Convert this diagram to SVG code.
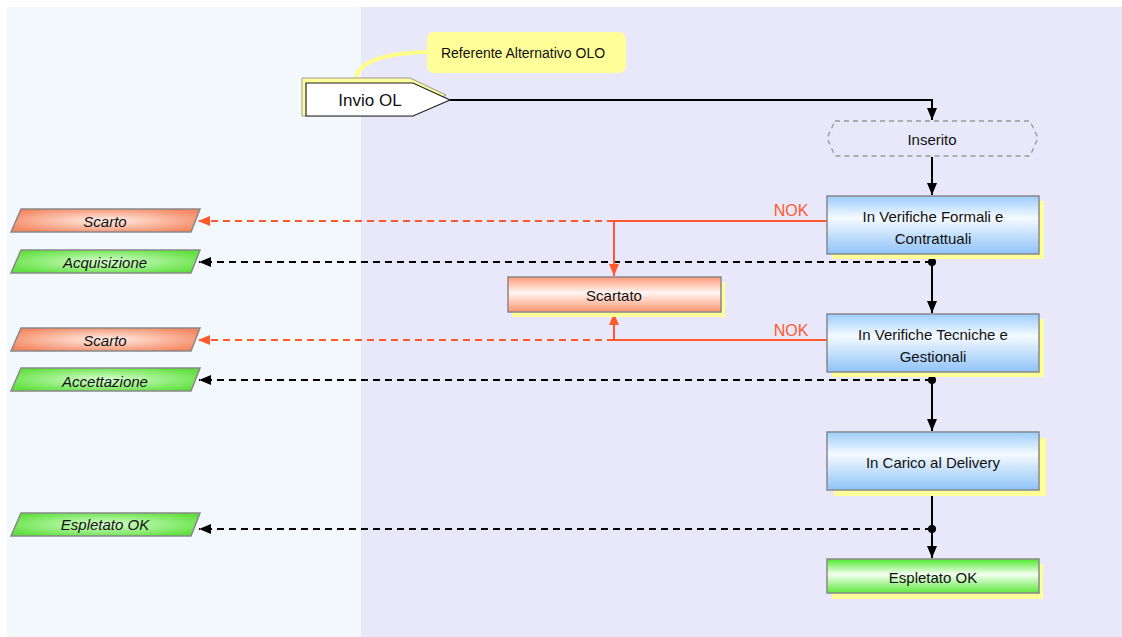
<svg xmlns="http://www.w3.org/2000/svg" width="1122" height="637" viewBox="0 0 1122 637">
<style>
.t{font-family:"Liberation Sans",Arial,sans-serif;font-size:15px;fill:#111;text-anchor:middle;dominant-baseline:central}
.ti{font-style:italic}
.box{stroke:#888;stroke-width:1.5}
.sh{fill:#ffff99}
.solid{stroke:#000;stroke-width:2;fill:none}
.dash{stroke:#000;stroke-width:2;fill:none;stroke-dasharray:7,5}
.rsolid{stroke:#ff5a2e;stroke-width:2;fill:none}
.rdash{stroke:#ff5a2e;stroke-width:2;fill:none;stroke-dasharray:7,5}
.nok{font-family:"Liberation Sans",Arial,sans-serif;font-size:16px;fill:#ff5a2e;text-anchor:middle}
</style>
<defs>
<linearGradient id="gBlue" x1="0" y1="0" x2="0" y2="1"><stop offset="0" stop-color="#9ccdff"/><stop offset="0.38" stop-color="#f5faff"/><stop offset="1" stop-color="#8fc3f8"/></linearGradient>
<linearGradient id="gGreen" x1="0" y1="0" x2="0" y2="1"><stop offset="0" stop-color="#4fe82c"/><stop offset="0.45" stop-color="#f4fff2"/><stop offset="1" stop-color="#5ee83c"/></linearGradient>
<linearGradient id="gRed" x1="0" y1="0" x2="0" y2="1"><stop offset="0" stop-color="#ff9a78"/><stop offset="0.45" stop-color="#fff6f2"/><stop offset="1" stop-color="#ff936e"/></linearGradient>
<radialGradient id="pGreen" cx="0.5" cy="0.5" r="0.6"><stop offset="0" stop-color="#d8ffd0"/><stop offset="1" stop-color="#5fe03e"/></radialGradient>
<radialGradient id="pRed" cx="0.5" cy="0.5" r="0.6"><stop offset="0" stop-color="#fff0ea"/><stop offset="1" stop-color="#f5865f"/></radialGradient>
<marker id="abk" viewBox="0 0 12 10" refX="12" refY="5" markerWidth="12" markerHeight="10" orient="auto" markerUnits="userSpaceOnUse"><path d="M0,0 L12,5 L0,10 z" fill="#000"/></marker>
<marker id="ark" viewBox="0 0 12 10" refX="12" refY="5" markerWidth="12" markerHeight="10" orient="auto" markerUnits="userSpaceOnUse"><path d="M0,0 L12,5 L0,10 z" fill="#ff5a2e"/></marker>
</defs>
<rect x="0" y="0" width="1122" height="637" fill="#ffffff"/>
<rect x="7" y="7" width="354" height="630" fill="#f3f8fc"/>
<rect x="361" y="7" width="761" height="630" fill="#e8e8fa"/>

<g id="connectors">
<path class="solid" d="M450,100 H932 V120" marker-end="url(#abk)"/>
<path class="solid" d="M932,157 V195" marker-end="url(#abk)"/>
<path class="solid" d="M932,254 V313" marker-end="url(#abk)"/>
<path class="solid" d="M932,372 V431" marker-end="url(#abk)"/>
<path class="solid" d="M932,490 V558" marker-end="url(#abk)"/>
<path class="dash" d="M932,262 H199" marker-end="url(#abk)"/>
<path class="dash" d="M932,380 H199" marker-end="url(#abk)"/>
<path class="dash" d="M932,529 H199" marker-end="url(#abk)"/>
<circle cx="932" cy="262" r="4" fill="#000"/>
<circle cx="932" cy="380" r="4" fill="#000"/>
<circle cx="932" cy="529" r="4" fill="#000"/>
<path class="rsolid" d="M827,221 H614 V276" marker-end="url(#ark)"/>
<path class="rdash" d="M614,221 H198" marker-end="url(#ark)"/>
<path class="rsolid" d="M827,340 H614 V313" marker-end="url(#ark)"/>
<path class="rdash" d="M614,340 H198" marker-end="url(#ark)"/>
<text class="nok" x="791" y="216">NOK</text>
<text class="nok" x="791" y="336">NOK</text>
<path d="M356,78 Q360,54 428,52" stroke="#ffff88" stroke-width="4" fill="none"/>
</g>

<g id="note">
<rect x="427" y="32" width="199" height="41" rx="7" fill="#ffff99"/>
<text class="t" x="523" y="53" style="font-size:14px">Referente Alternativo OLO</text>
</g>

<g id="invio">
<path d="M302,78 H410 L446,95 L413,116 H302 Z" fill="#ffff99" stroke="#999" stroke-width="1"/>
<path d="M306,83 H413 L450,100 L413,116 H306 Z" fill="#fff" stroke="#222" stroke-width="1.2"/>
<text class="t" x="370" y="100" style="font-size:17px">Invio OL</text>
</g>

<g id="inserito">
<path d="M835,121 H1030 L1038,138 L1030,156 H835 L827,138 Z" fill="none" stroke="#999" stroke-width="1.3" stroke-dasharray="5,4"/>
<text class="t" x="932" y="139">Inserito</text>
</g>

<g id="formali">
<rect class="sh" x="832" y="201" width="212" height="58"/>
<rect class="box" x="827" y="196" width="212" height="58" fill="url(#gBlue)"/>
<text class="t" x="933" y="216">In Verifiche Formali e</text>
<text class="t" x="933" y="238">Contrattuali</text>
</g>

<g id="tecniche">
<rect class="sh" x="832" y="319" width="212" height="58"/>
<rect class="box" x="827" y="314" width="212" height="58" fill="url(#gBlue)"/>
<text class="t" x="933" y="334">In Verifiche Tecniche e</text>
<text class="t" x="933" y="356">Gestionali</text>
</g>

<g id="carico">
<rect class="sh" x="834" y="438" width="212" height="58"/>
<rect class="box" x="827" y="432" width="212" height="58" fill="url(#gBlue)"/>
<text class="t" x="933" y="462">In Carico al Delivery</text>
</g>

<g id="espletato">
<rect class="sh" x="832" y="564" width="211" height="35"/>
<rect class="box" x="827" y="559" width="212" height="34" fill="url(#gGreen)"/>
<text class="t" x="933" y="577">Espletato OK</text>
</g>

<g id="scartato">
<rect class="sh" x="512" y="282" width="213" height="35"/>
<rect class="box" x="508" y="277" width="213" height="35" fill="url(#gRed)"/>
<text class="t" x="614" y="295">Scartato</text>
</g>

<g id="p-scarto1">
<path class="box" d="M21,209 H200 L191,232 H11 Z" fill="url(#pRed)"/>
<text class="t ti" x="105" y="221">Scarto</text>
</g>
<g id="p-acquisizione">
<path class="box" d="M21,250 H200 L191,273 H11 Z" fill="url(#pGreen)"/>
<text class="t ti" x="105" y="262">Acquisizione</text>
</g>
<g id="p-scarto2">
<path class="box" d="M21,328 H200 L191,351 H11 Z" fill="url(#pRed)"/>
<text class="t ti" x="105" y="340">Scarto</text>
</g>
<g id="p-accettazione">
<path class="box" d="M21,368 H200 L191,391 H11 Z" fill="url(#pGreen)"/>
<text class="t ti" x="105" y="381">Accettazione</text>
</g>
<g id="p-espletato">
<path class="box" d="M21,513 H200 L191,536 H11 Z" fill="url(#pGreen)"/>
<text class="t ti" x="105" y="524">Espletato OK</text>
</g>
</svg>
